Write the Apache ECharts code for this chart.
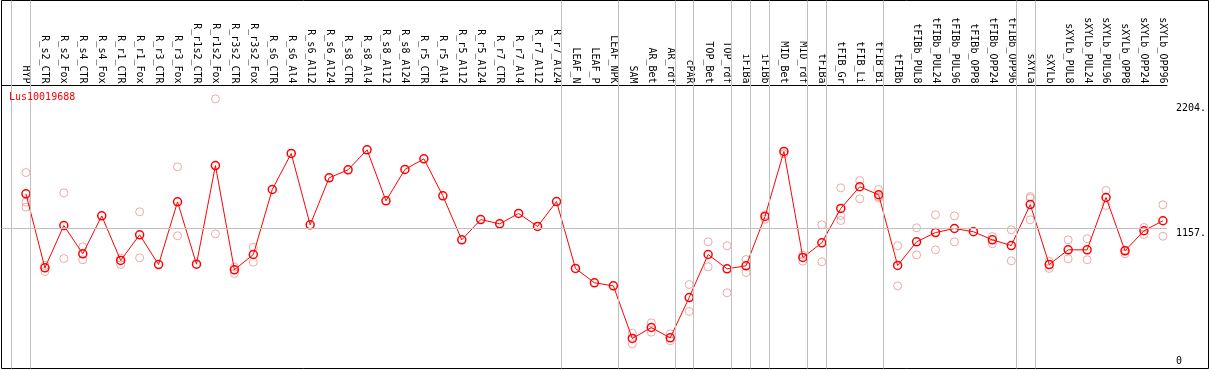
<!DOCTYPE html>
<html><head><meta charset="utf-8">
<script src="https://cdn.jsdelivr.net/npm/echarts@6/dist/echarts.min.js"></script>
<style>html,body{margin:0;padding:0;background:#fff}#c{width:1209px;height:370px}</style>
</head><body><div id="c"></div>
<script>
const categories = ['HYP','R_s2_CTR','R_s2_Fox','R_s4_CTR','R_s4_Fox','R_r1_CTR','R_r1_Fox','R_r3_CTR','R_r3_Fox','R_r1s2_CTR','R_r1s2_Fox','R_r3s2_CTR','R_r3s2_Fox','R_s6_CTR','R_s6_Al4','R_s6_Al12','R_s6_Al24','R_s8_CTR','R_s8_Al4','R_s8_Al12','R_s8_Al24','R_r5_CTR','R_r5_Al4','R_r5_Al12','R_r5_Al24','R_r7_CTR','R_r7_Al4','R_r7_Al12','R_r7_Al24','LEAF_N','LEAF_P','LEAF_NPK','SAM','AR_Bet','AR_rdf','cPAR','TOP_Bet','TOP_rdf','iFIBa','iFIBb','MID_Bet','MID_rdf','tFIBa','tFIB_Gr','tFIB_Li','tFIB_Bi','tFIBb','tFIBb_PUL8','tFIBb_PUL24','tFIBb_PUL96','tFIBb_OPP8','tFIBb_OPP24','tFIBb_OPP96','sXYLa','sXYLb','sXYLb_PUL8','sXYLb_PUL24','sXYLb_PUL96','sXYLb_OPP8','sXYLb_OPP24','sXYLb_OPP96'];
const means = [1448,827,1182,945,1263,889,1104,855,1381,858,1685,811,939,1484,1786,1188,1582,1649,1817,1389,1652,1741,1431,1062,1232,1196,1283,1174,1383,822,702,676,235,327,240,578,939,819,844,1258,1803,914,1037,1325,1507,1440,847,1045,1123,1157,1130,1062,1014,1358,855,978,978,1417,970,1138,1222];
const replicates = [[1626,1378,1336],[847,796],[1456,905],[1003,895],[],[908,855],[1297,911],[],[1674,1096],[],[2244,1112],[833,780],[1000,875],[],[],[],[],[],[],[],[],[],[],[],[],[],[],[],[],[],[],[],[279,190],[366,288],[274,216],[687,461],[1045,836],[1012,618],[897,788],[1272,1235],[1783],[933,883],[1188,878],[1498,1266,1224],[1559,1406],[1484,1425,1414],[1012,676],[1163,936],[1272,978],[1263,1045],[],[1090,1029],[1146,886],[1425,1411,1230],[883,822],[1062,903],[1071,895],[1476,1350],[978,945],[1165,1107],[1356,1092]];
const yTickValues = [2204, 1157, 0];
const yTickLabels = ['2204.', '1157.', '0'];
const gridLineValue = 1157;
const groupEnds = [-1, 0, 28, 31, 34, 35, 37, 38, 39, 41, 42, 45, 52, 53, 60];
const titleText = 'Lus10019688';

// layout
const FONT = 'DejaVu Sans Mono';
const GL = 1.5, GR = 1170, PX0 = 26, STEP = 19;
const XMIN = (GL - PX0) / STEP, XMAX = (GR - PX0) / STEP;
const GT = 0.5, GB = 368.5, Y0 = 366.5, S = 138 / 1157;
const YMAX = (Y0 - GT) / S, YMIN = -(GB - Y0) / S;

const meanData = means.map((v, i) => [i, v]);
const repData = [];
replicates.forEach((arr, i) => arr.forEach(v => repData.push([i, v])));
const labelOf = v => { const k = yTickValues.indexOf(Math.round(v)); return k >= 0 ? yTickLabels[k] : ''; };

const chart = echarts.init(document.getElementById('c'));
chart.setOption({
  animation: false,
  title: { text: titleText, left: 9, top: 92, padding: 0,
    textStyle: { color: '#ff0000', fontFamily: FONT, fontSize: 10, fontWeight: 'normal' } },
  grid: [
    { left: GL, right: 1209 - GR, top: GT, bottom: 370 - GB, show: false },
    { left: 1.5, right: 0.5, top: 0.5, bottom: 1.5, show: true, borderColor: '#000', borderWidth: 1, backgroundColor: 'transparent' }
  ],
  xAxis: [
    { type: 'value', gridIndex: 0, min: XMIN, max: XMAX, position: 'top', offset: -85,
      axisLine: { show: true, onZero: false, lineStyle: { color: '#000', width: 1 } },
      axisTick: { show: false }, splitLine: { show: false },
      axisLabel: { customValues: categories.map((_, i) => i), formatter: v => categories[Math.round(v)],
        rotate: 90, margin: 2, color: '#000', fontFamily: FONT, fontSize: 10 } },
    { type: 'value', gridIndex: 1, show: false, min: 0, max: 1 }
  ],
  yAxis: [
    { type: 'value', gridIndex: 0, min: YMIN, max: YMAX, position: 'right',
      axisLine: { show: false }, splitLine: { show: false },
      axisTick: { show: true, customValues: [gridLineValue], length: 6, lineStyle: { color: '#c0c0c0' } },
      axisLabel: { customValues: [yTickValues[0], yTickValues[1]], formatter: labelOf, verticalAlign: 'top',
        margin: 9, color: '#000', fontFamily: FONT, fontSize: 10 } },
    { type: 'value', gridIndex: 0, min: YMIN, max: YMAX, position: 'right',
      axisLine: { show: false }, splitLine: { show: false }, axisTick: { show: false },
      axisLabel: { customValues: [yTickValues[2]], formatter: labelOf, verticalAlign: 'bottom',
        margin: 9, color: '#000', fontFamily: FONT, fontSize: 10 } },
    { type: 'value', gridIndex: 1, show: false, min: 0, max: 1 }
  ],
  series: [
    { type: 'scatter', xAxisIndex: 0, yAxisIndex: 0, data: repData, symbol: 'circle', symbolSize: 8, z: 2, silent: true,
      itemStyle: { color: 'rgba(0,0,0,0)', borderColor: '#e89494', borderWidth: 1 },
      markLine: { silent: true, symbol: 'none', label: { show: false },
        lineStyle: { color: '#c0c0c0', width: 1, type: 'solid' },
        data: groupEnds.map(k => ({ xAxis: k + 4.5 / STEP })).concat([{ yAxis: gridLineValue }]) } },
    { type: 'line', xAxisIndex: 0, yAxisIndex: 0, data: meanData, symbol: 'circle', symbolSize: 8, showSymbol: true, z: 3, silent: true,
      lineStyle: { color: '#ff0000', width: 1 },
      itemStyle: { color: 'rgba(0,0,0,0)', borderColor: '#ff0000', borderWidth: 1.5 } }
  ]
});
</script></body></html>
